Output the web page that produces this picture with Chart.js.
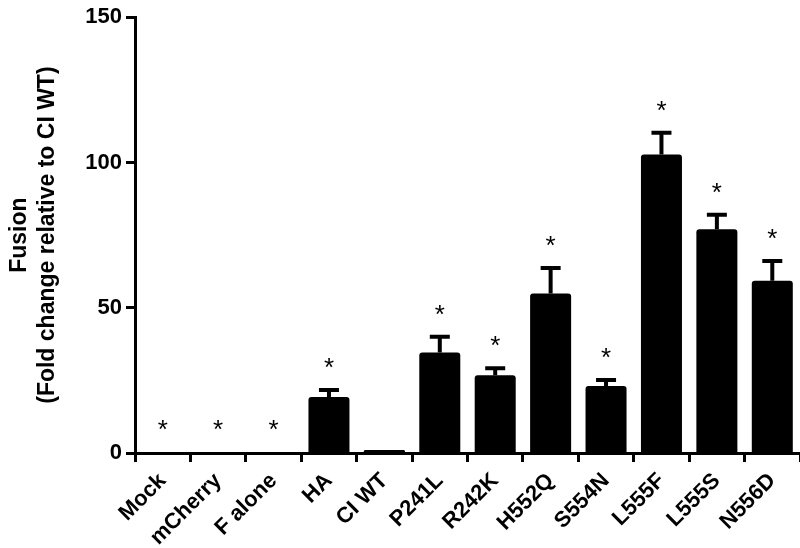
<!DOCTYPE html>
<html>
<head>
<meta charset="utf-8">
<script src="https://cdn.jsdelivr.net/npm/chart.js@4.4.1/dist/chart.umd.min.js"></script>
<style>
  html, body { margin: 0; padding: 0; background: #fff; }
  #wrap { width: 800px; height: 548px; position: relative; }
</style>
</head>
<body>
<div id="wrap"><canvas id="fusionChart"></canvas></div>
<script>
// Data
const labels = ['Mock', 'mCherry', 'F alone', 'HA', 'CI WT', 'P241L', 'R242K', 'H552Q', 'S554N', 'L555F', 'L555S', 'N556D'];
const means = [0.3, 0.3, 0.3, 19.3, 1.0, 34.6, 26.8, 54.9, 23.1, 102.7, 77.0, 59.3];
const errs = [0, 0, 0, 2.4, 0, 5.4, 2.4, 8.8, 2.0, 7.5, 5.0, 6.8];
const stars = ['*', '*', '*', '*', '', '*', '*', '*', '*', '*', '*', '*'];
const yTicks = [0, 50, 100, 150];

const FONT = "'Liberation Sans', Arial, sans-serif";

// Upper error bars + significance stars
const errorBars = {
    id: 'errorBars',
    afterDatasetsDraw(chart) {
        const ctx = chart.ctx;
        const y = chart.scales.y;
        const meta = chart.getDatasetMeta(0);
        ctx.save();
        ctx.strokeStyle = '#000';
        ctx.fillStyle = '#000';
        ctx.lineWidth = 4;
        meta.data.forEach((bar, i) => {
            const x = bar.x;
            const top = y.getPixelForValue(means[i] + errs[i]);
            if (errs[i] > 0) {
                ctx.beginPath();
                ctx.moveTo(x, y.getPixelForValue(means[i]));
                ctx.lineTo(x, top);
                ctx.moveTo(x - 10, top);
                ctx.lineTo(x + 10, top);
                ctx.stroke();
            }
            if (stars[i]) {
                ctx.font = '26px ' + FONT;
                ctx.textAlign = 'center';
                ctx.textBaseline = 'alphabetic';
                ctx.fillText(stars[i], x, top - 27 + 13);
            }
        });
        ctx.restore();
    }
};

new Chart(document.getElementById('fusionChart'), {
    type: 'bar',
    data: {
        labels: labels,
        datasets: [{
            data: means,
            backgroundColor: '#000',
            borderRadius: 3,
            borderSkipped: 'start',
            barPercentage: 0.74,
            categoryPercentage: 1.0
        }]
    },
    options: {
        responsive: true,
        maintainAspectRatio: false,
        animation: false,
        layout: { padding: { top: 10, right: 0, left: 0, bottom: 0 } },
        plugins: {
            legend: { display: false },
            tooltip: { enabled: false }
        },
        scales: {
            x: {
                grid: { drawOnChartArea: false, tickLength: 9, tickWidth: 3, tickColor: '#000' },
                border: { display: true, width: 3, color: '#000' },
                ticks: {
                    color: '#000',
                    font: { family: FONT, size: 22, weight: 'bold' },
                    maxRotation: 45,
                    minRotation: 45,
                    autoSkip: false,
                    padding: 6
                },
                afterFit(scale) { scale.height = 95; }
            },
            y: {
                min: 0,
                max: 150,
                afterBuildTicks(scale) { scale.ticks = yTicks.map(v => ({ value: v })); },
                grid: { drawOnChartArea: false, tickLength: 9, tickWidth: 3, tickColor: '#000' },
                border: { display: true, width: 3, color: '#000' },
                ticks: {
                    color: '#000',
                    font: { family: FONT, size: 22, weight: 'bold' },
                    padding: 4
                },
                title: {
                    display: true,
                    text: ['Fusion', '(Fold change relative to CI WT)'],
                    color: '#000',
                    font: { family: FONT, size: 23, weight: 'bold', lineHeight: 1.2 },
                    padding: { top: 6, bottom: 0 }
                },
                afterFit(scale) { scale.width = 135; }
            }
        }
    },
    plugins: [errorBars]
});
</script>
</body>
</html>
